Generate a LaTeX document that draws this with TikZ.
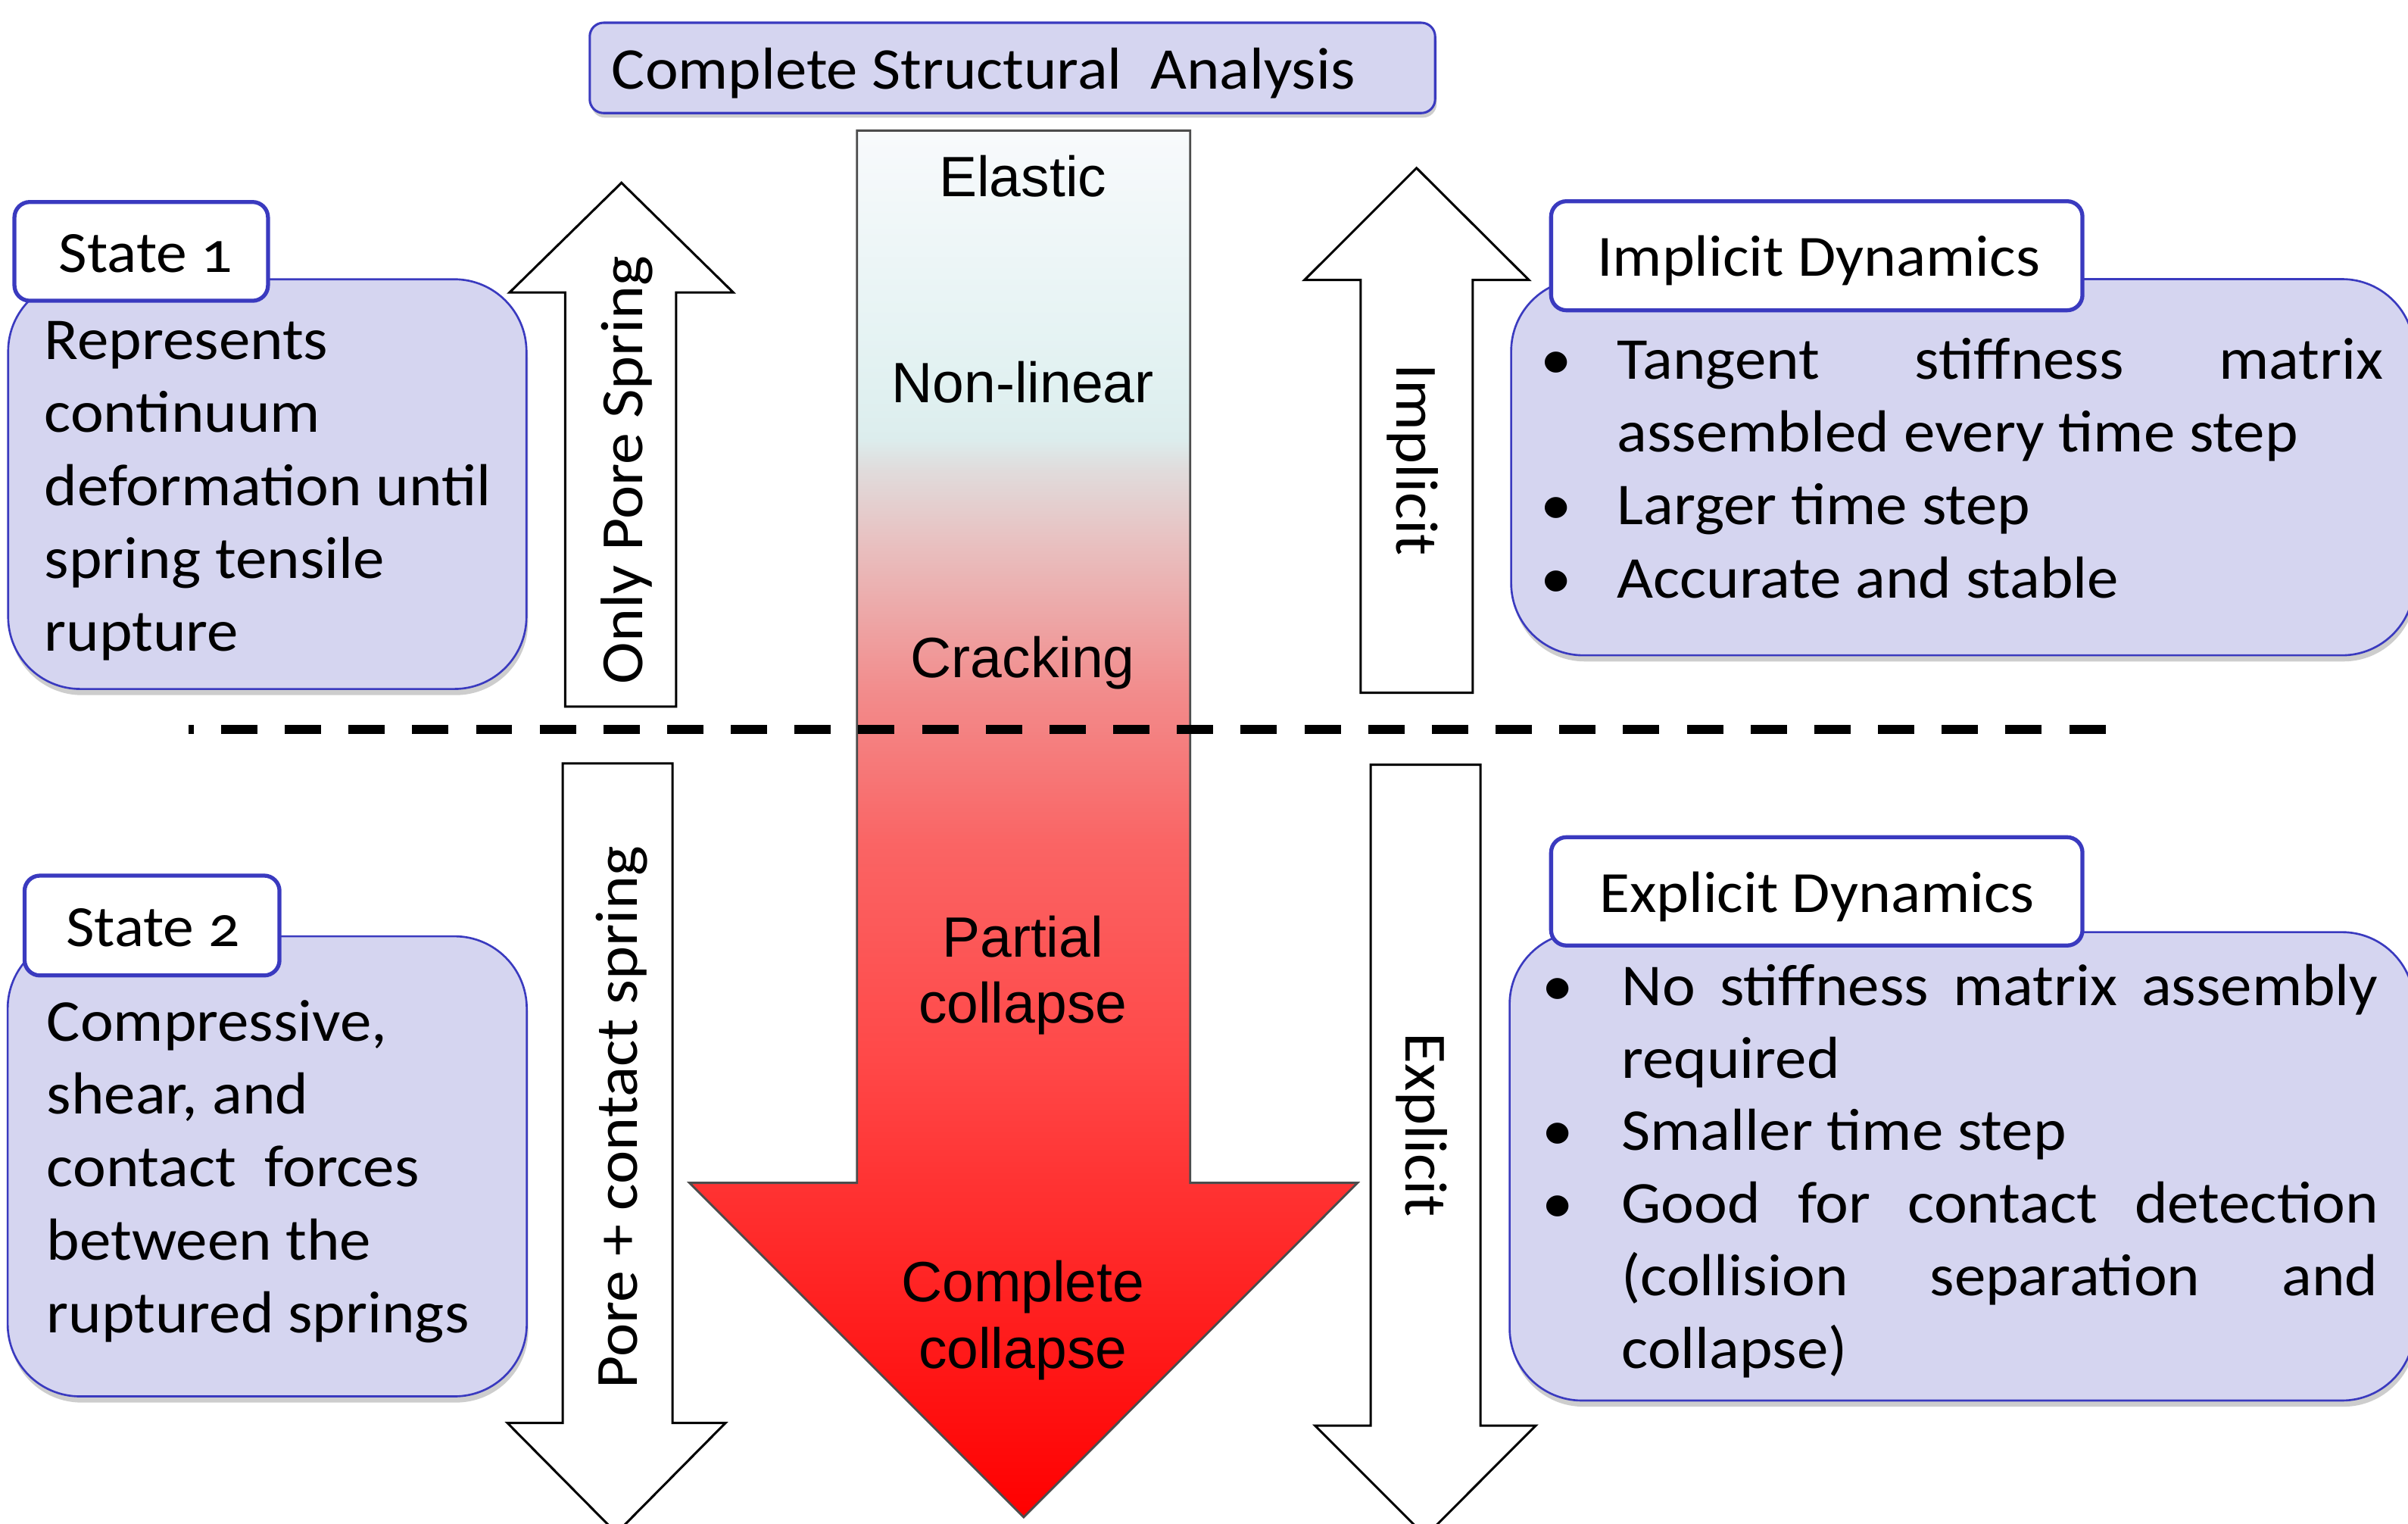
\documentclass[tikz,border=0pt]{standalone}
\usepackage{fontspec}
\setmainfont[FakeStretch=1.06,Numbers=OldStyle]{Carlito}
\newfontfamily\arialfont{Liberation Sans}
\usetikzlibrary{shadows}
\definecolor{lav}{HTML}{D5D5F0}
\definecolor{bblue}{HTML}{3A3ABF}
\definecolor{ga}{HTML}{F8FAFC}
\definecolor{gb}{HTML}{E1F1F1}
\definecolor{gc}{HTML}{DCEDED}
\definecolor{gd}{HTML}{E0DCDC}
\definecolor{ge}{HTML}{E8C2C2}
\definecolor{gf}{HTML}{F28C8C}
\definecolor{gg}{HTML}{FA6464}
\definecolor{gh}{HTML}{FF4848}
\definecolor{gi}{HTML}{FF3333}
\definecolor{gj}{HTML}{FF0000}
\pgfdeclareverticalshading{arrowgrad}{100bp}{color(0bp)=(gj); color(25bp)=(gj); color(37.1bp)=(gi); color(41.5bp)=(gh); color(49.25bp)=(gg); color(54.8bp)=(gf); color(60.3bp)=(ge); color(62.8bp)=(gd); color(63.9bp)=(gc); color(65.9bp)=(gb); color(75bp)=(ga); color(100bp)=(ga)}
\newcommand\bodyfont{\fontsize{38.6}{47.5}\selectfont}
\newcommand\bodyfontb{\fontsize{38.6}{47.2}\selectfont}
\newcommand\lblfont{\fontsize{38}{45}\selectfont}
\newcommand\ttlfont{\fontsize{38.5}{45}\selectfont}
\newcommand\rotfont{\fontsize{39}{45}\selectfont}
\newcommand\arrfont{\arialfont\fontsize{37}{43.3}\selectfont}
\tikzset{
  box/.style={inner sep=0pt, outer sep=0pt},
  bodybox/.style={box, rounded corners=47pt, fill=lav, draw=bblue, line width=1.3pt,
     drop shadow={shadow xshift=1pt, shadow yshift=-4pt, opacity=0.28, fill=black!70}},
  lblbox/.style={box, rounded corners=10pt, fill=white, draw=bblue, line width=2.6pt},
  ttlbox/.style={box, rounded corners=9pt, fill=lav, draw=bblue, line width=1.5pt,
     drop shadow={shadow xshift=1pt, shadow yshift=-3pt, opacity=0.28, fill=black!70}},
  whitearrow/.style={fill=white, draw=black, line width=1.5pt, line join=miter},
  txt/.style={inner sep=0pt, outer sep=0pt},
  dashline/.style={draw=black, line width=5.5pt, line cap=butt, dash pattern=on 23.6pt off 17.9pt, dash phase=20.6pt}
}
\begin{document}
\begin{tikzpicture}[x=1pt, y=-1pt]
\clip (0,0) rectangle (1568,992);
\fill[white] (0,0) rectangle (1568,992);

% central gradient arrow
\shadedraw[shading=arrowgrad, draw=black!70, line width=1.4pt]
  (558,85) -- (775,85) -- (775,770) -- (884,770) -- (666.6,987.6) -- (449,770) -- (558,770) -- cycle;

% white arrows
\draw[whitearrow] (368,460) -- (368,190.4) -- (331.8,190.4) -- (404.7,119) -- (477.5,190.4) -- (440.3,190.4) -- (440.3,460) -- cycle;
\draw[whitearrow] (366.4,497) -- (437.9,497) -- (437.9,926.3) -- (472.4,926.3) -- (401.4,998) -- (330.4,926.3) -- (366.4,926.3) -- cycle;
\draw[whitearrow] (886,451) -- (886,182.3) -- (849.4,182.3) -- (922.4,109.4) -- (995.6,182.3) -- (959,182.3) -- (959,451) -- cycle;
\draw[whitearrow] (892.5,497.8) -- (964,497.8) -- (964,928) -- (1000,928) -- (928.2,1000) -- (856.3,928) -- (892.5,928) -- cycle;

% title
\node[ttlbox, minimum width=550.5pt, minimum height=58.8pt] (title) at (659.25,44.2) {};
\node[txt, anchor=base west, font=\ttlfont] (titletext) at (398.4,57.8) {Complete Structural\ \ Analysis};

% state boxes
\node[bodybox, minimum width=337.5pt, minimum height=266.7pt] (s1body) at (174.05,315.15) {};
\node[lblbox, minimum width=165.1pt, minimum height=64.3pt] (s1lbl) at (91.95,163.65) {};
\node[txt, anchor=base west, font=\lblfont] (s1title) at (38.4,177.3) {State 1};
\node[txt, anchor=north west, align=left, font=\bodyfont] (s1text) at (29,200.75)
  {\strut Represents\\continuum\\deformation until\\spring tensile\\rupture};

\node[bodybox, minimum width=338pt, minimum height=299.5pt] (s2body) at (174,759.25) {};
\node[lblbox, minimum width=166pt, minimum height=65pt] (s2lbl) at (99,602.5) {};
\node[txt, anchor=base west, font=\lblfont] (s2title) at (43,616) {State 2};
\node[txt, anchor=north west, align=left, font=\bodyfont] (s2text) at (30.5,644.25)
  {\strut Compressive,\\shear, and\\contact\ \ forces\\between the\\ruptured springs};

% implicit / explicit boxes
\node[bodybox, minimum width=588pt, minimum height=244.9pt] (imbody) at (1278,304.15) {};
\node[lblbox, minimum width=346pt, minimum height=71pt] (imlbl) at (1183,166.5) {};
\node[txt, anchor=base west, font=\lblfont] (imtitle) at (1040,179.5) {Implicit Dynamics};
\node[txt, anchor=north west, font=\bodyfont] (imtext) at (1003,213.45)
  {\begin{tabular}{@{}p{50pt}@{}l@{}}
   \textbullet & \makebox[499pt][s]{Tangent stiffness matrix}\\
   & assembled every time step\\
   \textbullet & Larger time step\\
   \textbullet & Accurate and stable
   \end{tabular}};

\node[bodybox, minimum width=589pt, minimum height=304.9pt] (exbody) at (1277.5,759.25) {};
\node[lblbox, minimum width=346pt, minimum height=70.5pt] (exlbl) at (1183,580.25) {};
\node[txt, anchor=base west, font=\lblfont] (extitle) at (1041.5,593.7) {Explicit Dynamics};
\node[txt, anchor=north west, font=\bodyfontb] (extext) at (1004,621.46)
  {\begin{tabular}{@{}p{52pt}@{}l@{}}
   \textbullet & \makebox[492.6pt][s]{No stiffness matrix assembly}\\
   & required\\
   \textbullet & Smaller time step\\
   \textbullet & \makebox[492.6pt][s]{Good for contact detection}\\
   & \makebox[492.6pt][s]{(collision separation and}\\
   & collapse)
   \end{tabular}};

% dashed separator
\draw[dashline] (123,474.8) -- (1371,474.8);

% labels in central arrow
\node[txt, anchor=base, font=\arrfont] (elastic) at (666,128) {Elastic};
\node[txt, anchor=base, font=\arrfont] (nonlin) at (666,262) {Non-linear};
\node[txt, anchor=base, font=\arrfont] (crack) at (666,441.3) {Cracking};
\node[txt, anchor=north, align=center, font=\arrfont] (partial) at (666,592.45) {\strut Partial\\collapse};
\node[txt, anchor=north, align=center, font=\arrfont] (complete) at (666,817.15) {\strut Complete\\collapse};

% rotated labels
\node[txt, anchor=base, rotate=90, font=\rotfont] (onlypore) at (418.3,306) {Only Pore Spring};
\node[txt, anchor=base, rotate=90, font=\rotfont] (porecontact) at (415,727.5) {Pore + contact spring};
\node[txt, anchor=base, rotate=-90, font=\rotfont] (impl) at (909.3,299.3) {Implicit};
\node[txt, anchor=base, rotate=-90, font=\rotfont] (expl) at (915.2,732.3) {Explicit};
\end{tikzpicture}
\end{document}
